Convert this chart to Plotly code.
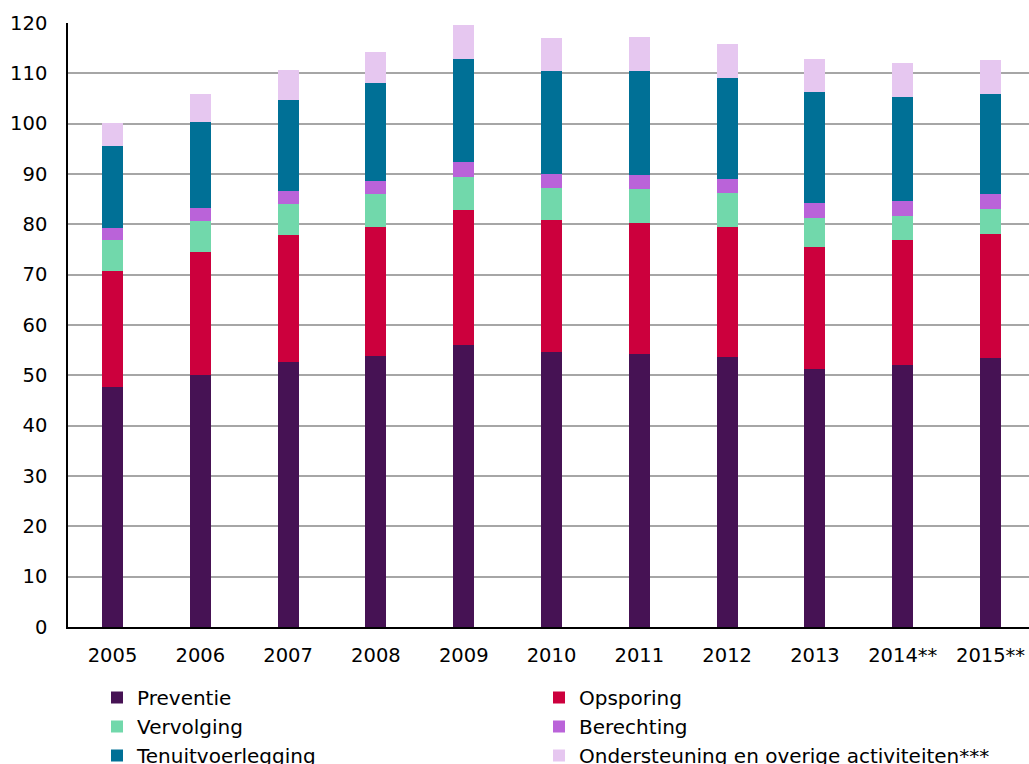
import plotly.graph_objects as go

years = ["2005", "2006", "2007", "2008", "2009", "2010", "2011", "2012", "2013", "2014**", "2015**"]
preventie = [47.7, 50.1, 52.6, 53.9, 56.0, 54.6, 54.2, 53.6, 51.2, 52.0, 53.4]
opsporing = [23.0, 24.5, 25.3, 25.6, 26.9, 26.2, 26.0, 25.9, 24.2, 24.8, 24.6]
vervolging = [6.2, 6.0, 6.1, 6.5, 6.6, 6.5, 6.8, 6.7, 5.8, 4.9, 5.0]
berechting = [2.4, 2.6, 2.7, 2.7, 2.9, 2.8, 2.8, 2.8, 3.0, 2.9, 3.0]
tenuitvoerlegging = [16.3, 17.2, 18.1, 19.4, 20.5, 20.4, 20.7, 20.0, 22.0, 20.6, 19.9]
ondersteuning = [4.5, 5.4, 5.8, 6.1, 6.7, 6.6, 6.7, 6.8, 6.7, 6.8, 6.7]

series = [
    ("Preventie", preventie, "#461254", "legend"),
    ("Opsporing", opsporing, "#CC003D", "legend2"),
    ("Vervolging", vervolging, "#71D8AB", "legend"),
    ("Berechting", berechting, "#BA63D9", "legend2"),
    ("Tenuitvoerlegging", tenuitvoerlegging, "#007096", "legend"),
    ("Ondersteuning en overige activiteiten***", ondersteuning, "#E6C7F0", "legend2"),
]

fig = go.Figure()
for name, vals, col, leg in series:
    fig.add_trace(go.Bar(x=years, y=vals, name=name, marker_color=col,
                         marker_line_width=0, width=0.239, legend=leg))

font = "DejaVu Sans, Verdana, sans-serif"
leg_common = dict(orientation="v", xref="container", yref="container",
                  y=1 - 678 / 764, xanchor="left", yanchor="top",
                  traceorder="normal", font=dict(family=font, size=20),
                  itemwidth=30, bgcolor="rgba(0,0,0,0)", tracegroupgap=0)
fig.update_layout(
    barmode="stack",
    width=1029, height=764,
    margin=dict(l=68, r=0, t=23, b=137, autoexpand=False),
    paper_bgcolor="white", plot_bgcolor="white",
    font=dict(family=font, size=19.5, color="#000000"),
    showlegend=True,
    legend=dict(x=97 / 1029, **leg_common),
    legend2=dict(x=539 / 1029, **leg_common),
    xaxis=dict(range=[-0.507, 10.438], showline=True, linecolor="black", linewidth=1.5,
               showgrid=False, ticks="", ticklabelstandoff=10, automargin=False,
               tickfont=dict(family=font, size=19.5)),
    yaxis=dict(range=[0, 120], dtick=10, showline=True, linecolor="black", linewidth=1.5,
               showgrid=True, gridcolor="#A6A6A6", gridwidth=2, ticks="",
               ticklabelstandoff=15, zeroline=False, automargin=False,
               tickfont=dict(family=font, size=19.5)),
)
fig.write_html("out.html", config={"displayModeBar": False},
               post_script="document.body.style.margin='0';document.body.style.overflow='hidden';")
